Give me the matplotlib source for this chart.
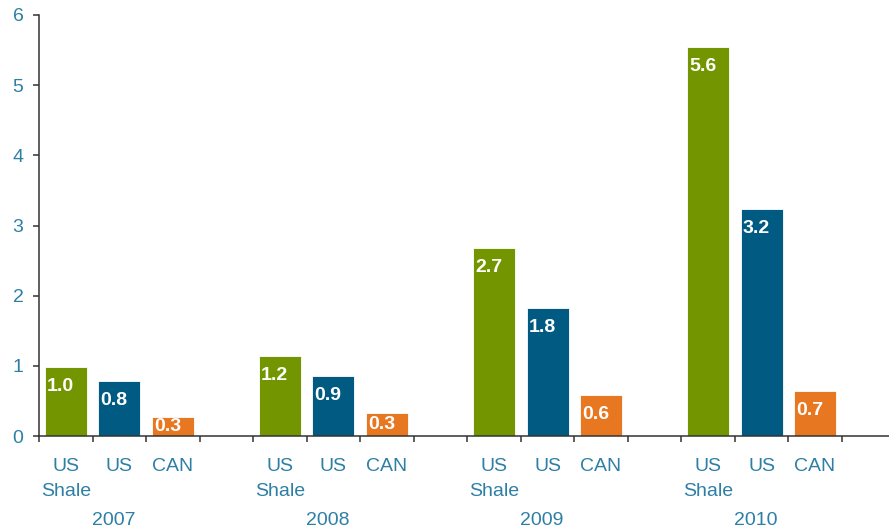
import numpy as np
import matplotlib
matplotlib.use('Agg')
import matplotlib.pyplot as plt

# Данные
years = ['2007', '2008', '2009', '2010']
categories = ['US\nShale', 'US', 'CAN']
us_shale = [0.99, 1.14, 2.68, 5.54]
us_total = [0.79, 0.86, 1.82, 3.23]
canada = [0.27, 0.33, 0.59, 0.64]
us_shale_labels = ['1.0', '1.2', '2.7', '5.6']
us_total_labels = ['0.8', '0.9', '1.8', '3.2']
canada_labels = ['0.3', '0.3', '0.6', '0.7']

colors = ['#739600', '#005a82', '#e87722']
text_color = '#2d7fa5'
axis_color = '#333333'

plt.rcParams['font.family'] = ['Liberation Sans', 'DejaVu Sans']

fig = plt.figure(figsize=(8.89, 5.30), dpi=100)
ax = fig.add_axes([0.0441, 0.177, 0.963, 0.795])

series = [us_shale, us_total, canada]
series_labels = [us_shale_labels, us_total_labels, canada_labels]
slots = 4  # 3 столбца + пустой промежуток
bar_w = 0.785

for s, (vals, labs) in enumerate(zip(series, series_labels)):
    xs = np.arange(len(years)) * slots + s
    ax.bar(xs, vals, width=bar_w, color=colors[s], edgecolor='white', linewidth=0.6, zorder=2)
    for x, v, lab in zip(xs, vals, labs):
        # подпись внутри столбца, у верхнего края
        y = max(v - 0.278, v / 2)
        ax.text(x - 0.1, y, lab, ha='center', va='center', color='white',
                fontsize=14, fontweight='bold', zorder=3)

ax.set_xlim(-0.5, len(years) * slots - 0.5)
ax.set_ylim(0, 6)
ax.set_yticks(range(0, 7))

# засечки на границах слотов
ax.set_xticks(np.arange(-0.5, len(years) * slots, 1.0))
ax.set_xticklabels([])
cat_pos = [g * slots + i for g in range(len(years)) for i in range(3)]
ax.set_xticks(cat_pos, minor=True)
ax.set_xticklabels(categories * len(years), minor=True)

ax.tick_params(axis='x', which='major', length=4.3, width=1.1, color=axis_color, direction='out')
ax.tick_params(axis='x', which='minor', length=0, pad=16, labelsize=14, labelcolor=text_color)
ax.tick_params(axis='y', length=4.3, width=1.1, color=axis_color, pad=7,
               labelsize=14, labelcolor=text_color)
for lab in ax.get_xticklabels(minor=True):
    lab.set_verticalalignment('top')
    lab.set_linespacing(1.6)

for side in ['top', 'right']:
    ax.spines[side].set_visible(False)
for side in ['left', 'bottom']:
    ax.spines[side].set_color(axis_color)
    ax.spines[side].set_linewidth(1.1)

# годы под группами
for g, yr in enumerate(years):
    ax.annotate(yr, xy=(g * slots + 0.9, 0), xycoords=('data', 'axes fraction'),
                xytext=(0, -61), textcoords='offset points', ha='center', va='center',
                fontsize=14, color=text_color)

fig.savefig('out.png', dpi=100)
